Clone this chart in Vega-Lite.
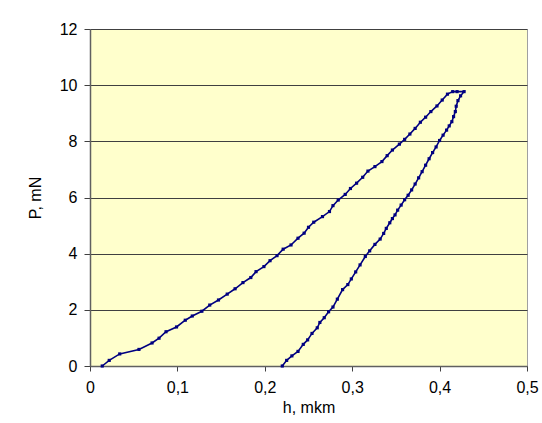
{
  "$schema": "https://vega.github.io/schema/vega-lite/v6.json",
  "autosize": "none",
  "width": 437,
  "height": 337,
  "padding": {"left": 90, "top": 29, "right": 15, "bottom": 57},
  "background": "white",
  "config": {
    "view": {"fill": "#FFFFCC", "stroke": "#A0A0A0", "strokeWidth": 1},
    "font": "Liberation Sans"
  },
  "data": {
    "values": [
      {"i": 1, "h": 0.014, "P": 0.0},
      {"i": 2, "h": 0.022, "P": 0.2},
      {"i": 3, "h": 0.034, "P": 0.43},
      {"i": 4, "h": 0.056, "P": 0.59},
      {"i": 5, "h": 0.071, "P": 0.82},
      {"i": 6, "h": 0.079, "P": 0.99},
      {"i": 7, "h": 0.087, "P": 1.22},
      {"i": 8, "h": 0.099, "P": 1.39},
      {"i": 9, "h": 0.109, "P": 1.63},
      {"i": 10, "h": 0.117, "P": 1.78},
      {"i": 11, "h": 0.128, "P": 1.95},
      {"i": 12, "h": 0.137, "P": 2.17},
      {"i": 13, "h": 0.147, "P": 2.35},
      {"i": 14, "h": 0.157, "P": 2.56},
      {"i": 15, "h": 0.166, "P": 2.75},
      {"i": 16, "h": 0.175, "P": 2.97},
      {"i": 17, "h": 0.184, "P": 3.15},
      {"i": 18, "h": 0.19, "P": 3.36},
      {"i": 19, "h": 0.199, "P": 3.54},
      {"i": 20, "h": 0.206, "P": 3.75},
      {"i": 21, "h": 0.214, "P": 3.93},
      {"i": 22, "h": 0.221, "P": 4.16},
      {"i": 23, "h": 0.23, "P": 4.31},
      {"i": 24, "h": 0.238, "P": 4.55},
      {"i": 25, "h": 0.245, "P": 4.73},
      {"i": 26, "h": 0.25, "P": 4.94},
      {"i": 27, "h": 0.256, "P": 5.12},
      {"i": 28, "h": 0.266, "P": 5.32},
      {"i": 29, "h": 0.274, "P": 5.5},
      {"i": 30, "h": 0.278, "P": 5.71},
      {"i": 31, "h": 0.284, "P": 5.91},
      {"i": 32, "h": 0.292, "P": 6.11},
      {"i": 33, "h": 0.298, "P": 6.32},
      {"i": 34, "h": 0.305, "P": 6.51},
      {"i": 35, "h": 0.312, "P": 6.72},
      {"i": 36, "h": 0.318, "P": 6.94},
      {"i": 37, "h": 0.326, "P": 7.1},
      {"i": 38, "h": 0.334, "P": 7.28},
      {"i": 39, "h": 0.34, "P": 7.49},
      {"i": 40, "h": 0.346, "P": 7.69},
      {"i": 41, "h": 0.354, "P": 7.9},
      {"i": 42, "h": 0.36, "P": 8.07},
      {"i": 43, "h": 0.366, "P": 8.26},
      {"i": 44, "h": 0.372, "P": 8.46},
      {"i": 45, "h": 0.378, "P": 8.68},
      {"i": 46, "h": 0.384, "P": 8.86},
      {"i": 47, "h": 0.39, "P": 9.06},
      {"i": 48, "h": 0.397, "P": 9.26},
      {"i": 49, "h": 0.403, "P": 9.47},
      {"i": 50, "h": 0.409, "P": 9.68},
      {"i": 51, "h": 0.415, "P": 9.77},
      {"i": 52, "h": 0.42, "P": 9.77},
      {"i": 53, "h": 0.428, "P": 9.77},
      {"i": 54, "h": 0.424, "P": 9.62},
      {"i": 55, "h": 0.421, "P": 9.45},
      {"i": 56, "h": 0.419, "P": 9.25},
      {"i": 57, "h": 0.418, "P": 9.06},
      {"i": 58, "h": 0.416, "P": 8.88},
      {"i": 59, "h": 0.414, "P": 8.7},
      {"i": 60, "h": 0.411, "P": 8.55},
      {"i": 61, "h": 0.408, "P": 8.4},
      {"i": 62, "h": 0.404, "P": 8.22},
      {"i": 63, "h": 0.4, "P": 8.03},
      {"i": 64, "h": 0.396, "P": 7.8},
      {"i": 65, "h": 0.392, "P": 7.6},
      {"i": 66, "h": 0.388, "P": 7.38},
      {"i": 67, "h": 0.384, "P": 7.15},
      {"i": 68, "h": 0.38, "P": 6.92},
      {"i": 69, "h": 0.376, "P": 6.7},
      {"i": 70, "h": 0.372, "P": 6.48},
      {"i": 71, "h": 0.368, "P": 6.27},
      {"i": 72, "h": 0.364, "P": 6.08},
      {"i": 73, "h": 0.36, "P": 5.92},
      {"i": 74, "h": 0.356, "P": 5.73},
      {"i": 75, "h": 0.352, "P": 5.55},
      {"i": 76, "h": 0.349, "P": 5.38},
      {"i": 77, "h": 0.346, "P": 5.25},
      {"i": 78, "h": 0.343, "P": 5.1},
      {"i": 79, "h": 0.339, "P": 4.9},
      {"i": 80, "h": 0.336, "P": 4.72},
      {"i": 81, "h": 0.332, "P": 4.52},
      {"i": 82, "h": 0.326, "P": 4.33},
      {"i": 83, "h": 0.32, "P": 4.1},
      {"i": 84, "h": 0.315, "P": 3.9},
      {"i": 85, "h": 0.309, "P": 3.6},
      {"i": 86, "h": 0.304, "P": 3.35},
      {"i": 87, "h": 0.299, "P": 3.1},
      {"i": 88, "h": 0.295, "P": 2.9},
      {"i": 89, "h": 0.289, "P": 2.72},
      {"i": 90, "h": 0.283, "P": 2.38},
      {"i": 91, "h": 0.278, "P": 2.1},
      {"i": 92, "h": 0.273, "P": 1.93},
      {"i": 93, "h": 0.268, "P": 1.72},
      {"i": 94, "h": 0.263, "P": 1.55},
      {"i": 95, "h": 0.26, "P": 1.36},
      {"i": 96, "h": 0.254, "P": 1.16},
      {"i": 97, "h": 0.249, "P": 0.93},
      {"i": 98, "h": 0.244, "P": 0.77},
      {"i": 99, "h": 0.238, "P": 0.52},
      {"i": 100, "h": 0.231, "P": 0.36},
      {"i": 101, "h": 0.225, "P": 0.2},
      {"i": 102, "h": 0.22, "P": 0.0}
    ]
  },
  "encoding": {
    "x": {
      "field": "h",
      "type": "quantitative",
      "scale": {"domain": [0, 0.5], "nice": false, "zero": false},
      "axis": {
        "title": "h, mkm",
        "values": [0, 0.1, 0.2, 0.3, 0.4, 0.5],
        "labelExpr": "datum.value == 0 ? '0' : replace(format(datum.value, '.1f'), '.', ',')",
        "grid": false,
        "domainColor": "#606060",
        "domainWidth": 1.5,
        "tickColor": "#404040",
        "tickSize": 5,
        "labelFontSize": 16,
        "labelColor": "black",
        "labelPadding": 8,
        "labelFlush": false,
        "titleFontSize": 16,
        "titleFontWeight": "normal",
        "titleColor": "black",
        "titlePadding": 4
      }
    },
    "y": {
      "field": "P",
      "type": "quantitative",
      "scale": {"domain": [0, 12], "nice": false},
      "axis": {
        "title": "P, mN",
        "values": [0, 2, 4, 6, 8, 10, 12],
        "grid": true,
        "gridColor": "#404040",
        "gridOpacity": 1,
        "gridWidth": 1,
        "domainColor": "#606060",
        "domainWidth": 1.5,
        "tickColor": "#404040",
        "tickSize": 6,
        "labelFontSize": 16,
        "labelColor": "black",
        "labelPadding": 7,
        "labelFlush": false,
        "titleFontSize": 16,
        "titleFontWeight": "normal",
        "titleColor": "black",
        "titlePadding": 16
      }
    },
    "order": {"field": "i", "type": "quantitative"}
  },
  "layer": [
    {"mark": {"type": "line", "color": "#000080", "strokeWidth": 1.6, "clip": false}},
    {"mark": {"type": "point", "shape": "square", "filled": true, "size": 10, "color": "#000080", "opacity": 1}}
  ]
}
